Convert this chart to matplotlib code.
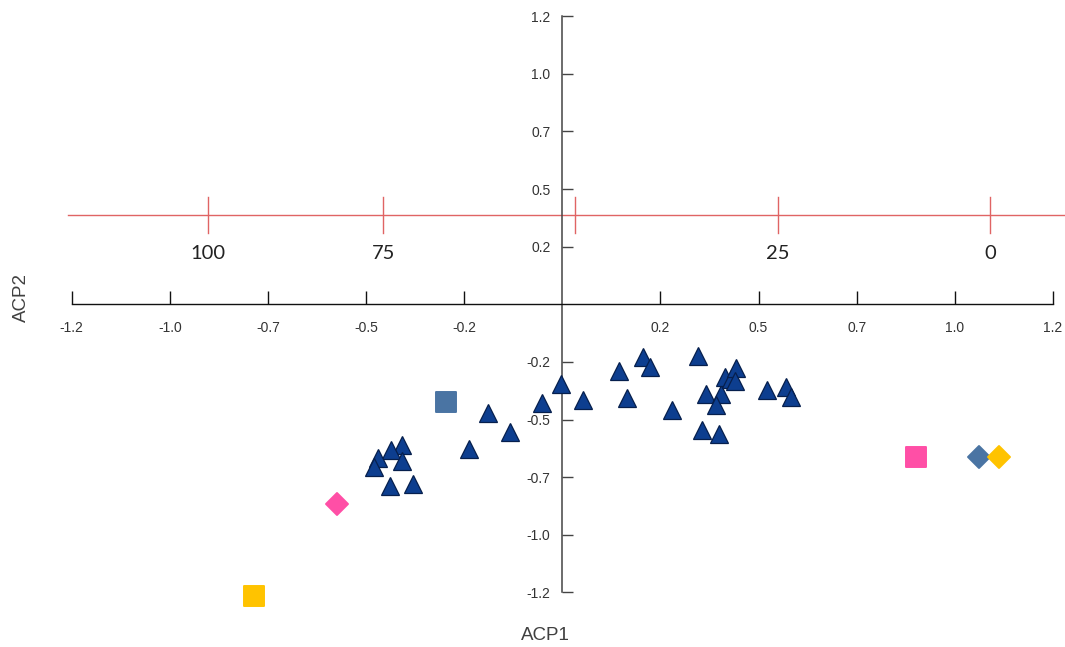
import matplotlib
matplotlib.use("Agg")
import matplotlib.pyplot as plt
from matplotlib.markers import MarkerStyle

# ---- data -------------------------------------------------------------
# PCA scores of the samples (first and second component)
samples_acp1 = [-0.181, -0.128, -0.228, -0.049, -0.003, 0.050, 0.139, 0.159,
                0.197, 0.214, 0.268, 0.332, 0.352, 0.387, 0.377, 0.342,
                0.382, 0.397, 0.413, 0.426, 0.423, 0.501, 0.547, 0.559,
                -0.393, -0.419, -0.451, -0.460, -0.392, -0.421, -0.364]
samples_acp2 = [-0.454, -0.531, -0.603, -0.411, -0.331, -0.399, -0.278, -0.389,
                -0.220, -0.261, -0.440, -0.215, -0.372, -0.372, -0.421, -0.524,
                -0.542, -0.301, -0.311, -0.265, -0.320, -0.355, -0.343, -0.386,
                -0.586, -0.606, -0.642, -0.677, -0.654, -0.758, -0.750]

# reference points (squares and diamonds)
ref_acp1 = [-0.284, -0.755, 0.864, -0.552, 1.020, 1.067]
ref_acp2 = [-0.407, -1.215, -0.637, -0.832, -0.636, -0.636]

# percentage scale drawn across the plane
scale_values = [100, 75, 50, 25, 0]
scale_acp1 = [-0.867, -0.438, 0.032, 0.527, 1.046]
scale_labels = ["100", "75", "", "25", "0"]
scale_acp2 = 0.372

# axis ticks
axis_ticks = [-1.2, -0.96, -0.72, -0.48, -0.24, 0.24, 0.48, 0.72, 0.96, 1.2]

# ---- styles -----------------------------------------------------------
ref_styles = [
    dict(marker="s", color="#4a74a3"),
    dict(marker="s", color="#ffc300"),
    dict(marker="s", color="#ff4fa6"),
    dict(marker="D", color="#ff4fa6"),
    dict(marker="D", color="#4a74a3"),
    dict(marker="D", color="#ffc300"),
]

plt.rcParams["font.family"] = ["Liberation Sans", "DejaVu Sans"]

fig = plt.figure(figsize=(10.65, 6.47), dpi=100)
ax = fig.add_axes([0, 0, 1, 1])
ax.set_xlim(-1.3752, 1.2294)
ax.set_ylim(-1.4279, 1.2679)

# axes crossing at the origin
for side in ("top", "right"):
    ax.spines[side].set_visible(False)
ax.spines["left"].set_position(("data", 0))
ax.spines["bottom"].set_position(("data", 0))
ax.spines["left"].set_bounds(-1.2, 1.2)
ax.spines["bottom"].set_bounds(-1.2, 1.2)
ax.spines["left"].set_color("#444444")
ax.spines["bottom"].set_color("#111111")
ax.spines["left"].set_linewidth(1.1)
ax.spines["bottom"].set_linewidth(1.0)

ax.set_xticks(axis_ticks)
ax.set_yticks(axis_ticks)
ax.set_xticklabels([f"{v:.1f}" for v in axis_ticks])
ax.set_yticklabels([f"{v:.1f}" for v in axis_ticks])
ax.tick_params(axis="x", direction="in", length=9.5, width=1.0, pad=12,
               labelsize=10, labelcolor="#333333", color="#111111")
ax.tick_params(axis="y", direction="in", length=8, width=1.0, pad=8.5,
               labelsize=10, labelcolor="#333333", color="#444444")

# percentage scale
ax.plot([-1.21, 1.23], [scale_acp2, scale_acp2], color="#e06464", lw=1.0,
        zorder=1)
for xv, lab in zip(scale_acp1, scale_labels):
    ax.plot([xv, xv], [scale_acp2 - 0.076, scale_acp2 + 0.076],
            color="#e06464", lw=1.0, zorder=1)
    if lab:
        ax.text(xv, 0.2125, lab, ha="center", va="center", fontsize=14.5,
                family=["Lato", "DejaVu Sans"], color="#222222")

# samples
ax.plot(samples_acp1, samples_acp2, linestyle="none", marker="^",
        markersize=13, markerfacecolor="#0d3e8f", markeredgecolor="#061f4d",
        markeredgewidth=0.9, zorder=4)

# reference points
for xv, yv, st in zip(ref_acp1, ref_acp2, ref_styles):
    if st["marker"] == "s":
        mk = MarkerStyle("s", joinstyle="round")
        ms = 14.6
    else:
        mk = MarkerStyle("D", joinstyle="round")
        ms = 10.8
    ax.plot([xv], [yv], linestyle="none", marker=mk, markersize=ms,
            markerfacecolor=st["color"], markeredgecolor=st["color"],
            markeredgewidth=1.4, zorder=5)

fig.text(21 / 1065, 1 - 298 / 647, "ACP2", rotation=90, ha="center",
         va="center", fontsize=13.5, color="#404040")
fig.text(545 / 1065, 1 - 635 / 647, "ACP1", ha="center", va="center",
         fontsize=13.5, color="#404040")

fig.savefig("out.png", dpi=100)
